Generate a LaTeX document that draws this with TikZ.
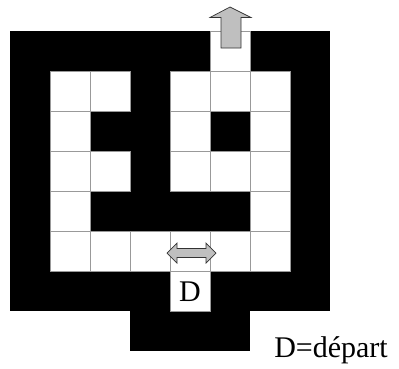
\documentclass[tikz,border=0pt]{standalone}
\usepackage{fontspec}
\setmainfont{Liberation Serif}
\tikzset{
  wallfill/.style={fill=black},
  opencell/.style={fill=white, draw=gray!80, line width=0.8pt},
  blockarrow/.style={fill=gray!50, draw=black!80, line width=0.7pt, line join=miter},
  labeltext/.style={font=\fontsize{30}{32}\selectfont, inner sep=0pt}
}
\begin{document}
\begin{tikzpicture}[x=1pt,y=-1pt]
\useasboundingbox (0,0) rectangle (399,368);
% outer walls
\fill[wallfill] (10,31) rectangle (330,311);
\fill[wallfill] (130,311) rectangle (250,351);
% open cells (column, row)
\foreach \c/\r in {5/0,
  1/1,2/1,4/1,5/1,6/1,
  1/2,4/2,6/2,
  1/3,2/3,4/3,5/3,6/3,
  1/4,6/4,
  1/5,2/5,3/5,4/5,5/5,6/5,
  4/6}{
  \draw[opencell] ({10+40*\c},{31+40*\r}) rectangle ++(40,40);
}
% exit arrow
\draw[blockarrow] (230,7) -- (251,17.5) -- (241,17.5) -- (241,48) -- (221,48) -- (221,17.5) -- (210,17.5) -- cycle;
% double arrow
\draw[blockarrow] (167,253) -- (177,243) -- (177,248.5) -- (206,248.5) -- (206,243) -- (216,253)
  -- (206,263) -- (206,257.5) -- (177,257.5) -- (177,263) -- cycle;
% start label
\node[labeltext] (start) at (190,292) {D};
\node[labeltext, anchor=base east] (legend) at (388,357) {D=départ};
\end{tikzpicture}
\end{document}
